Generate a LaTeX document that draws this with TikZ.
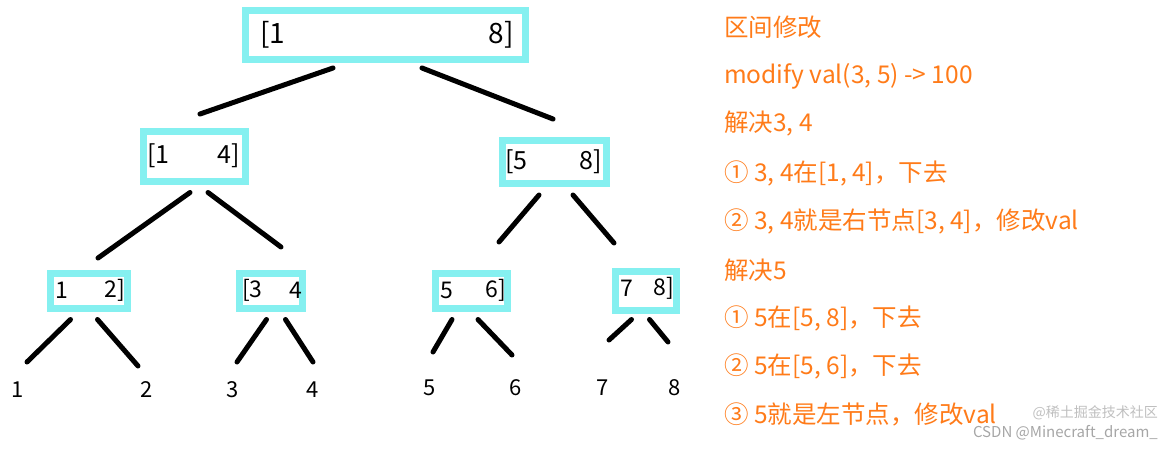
\documentclass[tikz,border=0pt]{standalone}
\usepackage{fontspec}
\setmainfont{Noto Sans CJK SC}
\begin{document}
\begin{tikzpicture}[x=1pt,y=-1pt,
  box/.style={draw=cyan!45!white,line width=7pt,fill=white,inner sep=0pt},
  edge/.style={line width=5pt,line cap=round},
  lab/.style={font=\fontsize{28}{30}\selectfont,inner sep=0pt,anchor=west},
  leaf/.style={font=\fontsize{22}{24}\selectfont,inner sep=0pt},
  info/.style={font=\fontsize{24.5}{28}\selectfont,text=orange!85!red!90!white,anchor=west,inner sep=0pt}]
\definecolor{cy}{HTML}{85F0F0}
\tikzset{box/.append style={draw=cy}}
\useasboundingbox (0,0) rectangle (1174,450);
% boxes
\node[box,minimum width=280,minimum height=49] (r) at (385.5,35) {};
\node[lab] (r1) at (260,35) {[1};
\node[lab,anchor=east] (r8) at (514,35) {8]};
\node[box,minimum width=102,minimum height=50] (a) at (194,156) {};
\node[lab,font=\fontsize{25}{26}\selectfont] (a1) at (147,156) {[1};
\node[lab,font=\fontsize{25}{26}\selectfont,anchor=east] (a4) at (240,156) {4]};
\node[box,minimum width=104,minimum height=43] (b) at (554,162) {};
\node[lab,font=\fontsize{25}{26}\selectfont] (b5) at (505,162) {[5};
\node[lab,font=\fontsize{25}{26}\selectfont,anchor=east] (b8) at (602,162) {8]};
\node[box,minimum width=77,minimum height=35] (c) at (88.5,290.5) {};
\node[lab,font=\fontsize{23}{24}\selectfont] (c1) at (55,290.5) {1};
\node[lab,font=\fontsize{23}{24}\selectfont,anchor=east] (c2) at (125,290.5) {2]};
\node[box,minimum width=63,minimum height=35] (d) at (270.5,290.5) {};
\node[lab,font=\fontsize{23}{24}\selectfont] (d3) at (242,290.5) {[3};
\node[lab,font=\fontsize{23}{24}\selectfont,anchor=east] (d4) at (302,290.5) {4};
\node[box,minimum width=72,minimum height=35] (e) at (471,290.5) {};
\node[lab,font=\fontsize{23}{24}\selectfont] (e5) at (440,290.5) {5};
\node[lab,font=\fontsize{23}{24}\selectfont,anchor=east] (e6) at (506,290.5) {6]};
\node[box,minimum width=61,minimum height=39] (f) at (645.5,290.5) {};
\node[lab,font=\fontsize{23}{24}\selectfont] (f7) at (620,288) {7};
\node[lab,font=\fontsize{23}{24}\selectfont,anchor=east] (f8) at (674,288) {8]};
% leaves
\node[leaf] (l1) at (18,390) {1};
\node[leaf] (l2) at (147,390) {2};
\node[leaf] (l3) at (233,390) {3};
\node[leaf] (l4) at (313,390) {4};
\node[leaf] (l5) at (430,388) {5};
\node[leaf] (l6) at (516,388) {6};
\node[leaf] (l7) at (603,388) {7};
\node[leaf] (l8) at (675,388) {8};
% edges
\coordinate (p1) at (200,114); \coordinate (p2) at (553,119);
\draw[edge] (333,68) -- (p1); \draw[edge] (422,68) -- (p2);
\coordinate (q1) at (98,258); \coordinate (q2) at (281,247);
\draw[edge] (a.south) ++(-4,8) -- (q1); \draw[edge] (a.south) ++(14,8) -- (q2);
\coordinate (s1) at (499,242); \coordinate (s2) at (614,243);
\draw[edge] (b.south) ++(-15,8) -- (s1); \draw[edge] (b.south) ++(19,8) -- (s2);
\coordinate (t1) at (27,362); \coordinate (t2) at (138,366);
\draw[edge] (c.south) ++(-18,8) -- (t1); \draw[edge] (c.south) ++(9,8) -- (t2);
\coordinate (u1) at (237,362); \coordinate (u2) at (313,362);
\draw[edge] (d.south) ++(-4,8) -- (u1); \draw[edge] (d.south) ++(15,8) -- (u2);
\coordinate (v1) at (433,352); \coordinate (v2) at (512,355);
\draw[edge] (e.south) ++(-19,8) -- (v1); \draw[edge] (e.south) ++(7,8) -- (v2);
\coordinate (w1) at (609,340); \coordinate (w2) at (668,342);
\draw[edge] (f.south) ++(-14,6) -- (w1); \draw[edge] (f.south) ++(4,6) -- (w2);
% info text
\node[info] (i1) at (724,27) {区间修改};
\node[info] (i2) at (724,76) {modify val(3, 5) -> 100};
\node[info] (i3) at (724,124) {解决3, 4};
\node[info] (i4) at (724,173) {① 3, 4在[1, 4]，下去};
\node[info] (i5) at (724,221) {② 3, 4就是右节点[3, 4]，修改val};
\node[info] (i6) at (724,270) {解决5};
\node[info] (i7) at (724,318) {① 5在[5, 8]，下去};
\node[info] (i8) at (724,366) {② 5在[5, 6]，下去};
\node[info] (i9) at (724,414) {③ 5就是左节点，修改val};
\node[font=\fontsize{15}{18}\selectfont,text=gray!70,anchor=east,inner sep=0pt] (wm) at (1158,433) {CSDN @Minecraft\_dream\_};
\node[font=\fontsize{14}{18}\selectfont,text=gray!50,anchor=east,inner sep=0pt] (wm2) at (1158,413) {@稀土掘金技术社区};
\end{tikzpicture}
\end{document}
